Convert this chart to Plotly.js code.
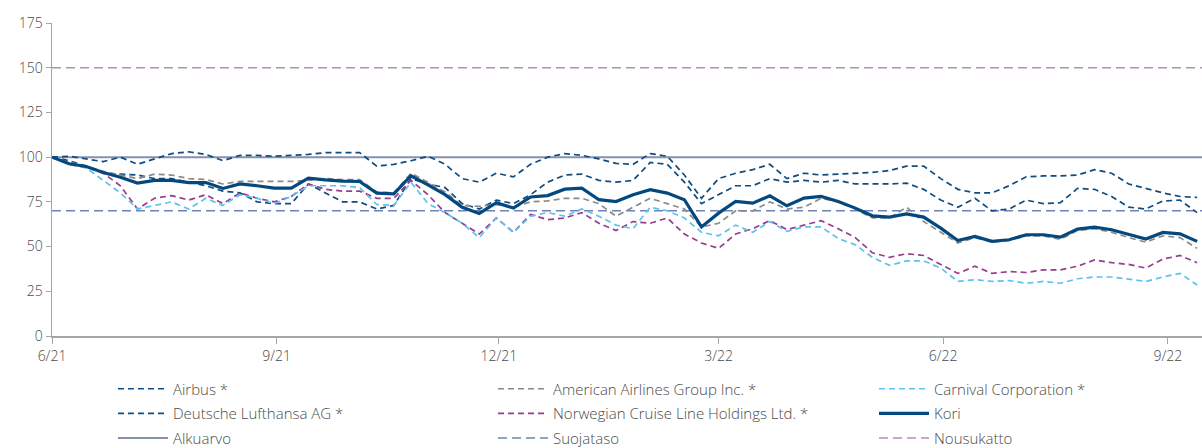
<!DOCTYPE html>
<html>
<head>
<meta charset="utf-8">
<script src="https://cdn.plot.ly/plotly-3.0.1.min.js"></script>
<style>
  html, body { margin: 0; padding: 0; background: #ffffff; }
  #chart { width: 1202px; height: 448px; }
</style>
</head>
<body>
<div id="chart"></div>
<script>
// Weekly observation dates
const dates = [
  '2021-06-01','2021-06-08','2021-06-15','2021-06-22','2021-06-29','2021-07-06','2021-07-13','2021-07-20','2021-07-27','2021-08-03',
  '2021-08-10','2021-08-17','2021-08-24','2021-08-31','2021-09-07','2021-09-14','2021-09-21','2021-09-28','2021-10-05','2021-10-12',
  '2021-10-19','2021-10-26','2021-11-02','2021-11-09','2021-11-16','2021-11-23','2021-11-30','2021-12-07','2021-12-14','2021-12-21',
  '2021-12-28','2022-01-04','2022-01-11','2022-01-18','2022-01-25','2022-02-01','2022-02-08','2022-02-15','2022-02-22','2022-03-01',
  '2022-03-08','2022-03-15','2022-03-22','2022-03-29','2022-04-05','2022-04-12','2022-04-19','2022-04-26','2022-05-03','2022-05-10',
  '2022-05-17','2022-05-24','2022-05-31','2022-06-07','2022-06-14','2022-06-21','2022-06-28','2022-07-05','2022-07-12','2022-07-19',
  '2022-07-26','2022-08-02','2022-08-09','2022-08-16','2022-08-23','2022-08-30','2022-09-06','2022-09-13'
];

const airbus = [
  100, 100.5, 99, 97.5, 100, 96, 99, 102, 103, 101.5,
  98, 101, 101, 100.5, 101, 101.5, 102.5, 102.5, 102.5, 95,
  96, 98, 100.5, 96, 88, 86, 91, 89, 96, 100,
  102, 101, 99, 96.5, 96, 102, 100.5, 90, 77, 88,
  91, 93, 96, 88, 91, 90, 90.5, 91, 91.5, 92.5,
  95, 95, 88, 82, 80, 80, 84, 89, 89.5, 89.5,
  90, 93, 91, 85, 82.5, 80, 78, 77.5
];

const lufthansa = [
  100, 98, 95, 91, 90.5, 90, 88, 88, 86, 84,
  81, 80, 75, 74, 74, 85, 80, 75, 75, 71,
  73, 88, 85, 83, 74, 71, 76, 74, 79, 86,
  90, 90.5, 87, 86, 87, 97, 96, 86, 74, 79,
  84, 84, 88, 86, 87, 86, 87, 85, 85, 85,
  85.5, 82, 76, 72, 77, 70, 71, 76, 74, 74.5,
  82.5, 82, 78, 72, 71, 75.5, 76, 69
];

const americanAirlines = [
  100, 97, 95, 92, 90, 88, 90.5, 90, 88, 87.5,
  85, 86.4, 86.4, 86.4, 86.4, 87, 88, 87.5, 87.5, 80.5,
  80, 91, 86, 80.5, 73, 72.5, 73.5, 72, 75, 75.5,
  77, 77, 74, 67, 72, 77, 74, 71, 61, 63,
  70, 70, 75, 71, 72, 77, 75, 71, 66, 66,
  72, 64, 58, 52, 55, 52.5, 53.5, 56, 56, 54,
  59, 60, 58, 55, 52.5, 56, 55, 49
];

const carnival = [
  100, 96, 94, 87, 80, 71, 73, 75, 71, 77,
  73, 79, 77, 74, 78, 84, 84, 84, 83, 73.5,
  73, 86, 74, 69, 63, 55, 66, 58, 67, 69,
  67, 71, 67, 62, 60, 72, 70, 66, 58, 56,
  62, 58, 64, 58.5, 61, 61, 54.5, 51, 44, 39.5,
  42, 42, 38, 30.5, 31.5, 30.5, 31, 29.5, 30.5, 29.5,
  32, 33, 33, 31.8, 30.5, 33, 35, 28.5
];

const norwegian = [
  100, 96, 95, 91, 84, 71, 77, 78.5, 76, 79,
  74, 80, 77, 75, 78, 85, 82, 81, 81, 77,
  77, 87, 79, 69, 63, 57, 66, 58, 68, 65,
  66, 69, 63, 59, 64, 63, 66, 57, 52, 49,
  57, 60, 64.5, 59.5, 62, 64.5, 60, 55, 46.5, 44,
  46, 45, 40, 35, 39, 35, 36, 35.5, 37, 37,
  39, 42.5, 41, 40, 38, 43, 45, 41
];

const kori = [
  100, 96.3, 94.8, 91.4, 88.8, 85.5, 87, 87, 85.8, 85.8,
  82.5, 85, 84, 82.7, 82.7, 88.3, 87.3, 86.6, 86.4, 79.9,
  79.5, 89.6, 84.5, 79, 72, 68.5, 74.5, 71.5, 77.7, 78.5,
  82.1, 82.7, 76.2, 75.2, 79, 81.8, 79.9, 76.2, 61, 68.7,
  75.2, 74.3, 78.4, 72.8, 77.1, 78, 75.2, 71.5, 67.2, 66.5,
  68.3, 66.5, 60.3, 53.4, 55.7, 52.9, 53.8, 56.6, 56.6, 55.3,
  59.8, 60.9, 59.4, 57, 54.2, 57.9, 57.1, 52.9
];

// Reference levels
const alkuarvo = 100;
const suojataso = 70;
const nousukatto = 150;

// Axis
const xRange = ['2021-06-01', '2022-09-15'];
const xTickVals = ['2021-06-01', '2021-09-01', '2021-12-01', '2022-03-01', '2022-06-01', '2022-09-01'];
const xTickText = ['6/21', '9/21', '12/21', '3/22', '6/22', '9/22'];
const yTickVals = [0, 25, 50, 75, 100, 125, 150, 175];

const FONT = 'Open Sans, Liberation Sans, Arial, sans-serif';
const TXT = '#4a4a4a';

const navyDash = '#0f4c81';
const dashS = '6px,4px';
const dashR = '9px,5px';

const traces = [
  { name: 'Nousukatto', x: xRange, y: [nousukatto, nousukatto], mode: 'lines',
    line: { color: '#b58bbd', width: 1.6, dash: dashR }, legend: 'legend9' },
  { name: 'Suojataso', x: xRange, y: [suojataso, suojataso], mode: 'lines',
    line: { color: '#6f82b5', width: 1.6, dash: dashR }, legend: 'legend8' },
  { name: 'Alkuarvo', x: xRange, y: [alkuarvo, alkuarvo], mode: 'lines',
    line: { color: '#8591ad', width: 2 }, legend: 'legend7' },
  { name: 'Airbus *', x: dates, y: airbus, mode: 'lines',
    line: { color: navyDash, width: 1.7, dash: dashS }, legend: 'legend' },
  { name: 'Deutsche Lufthansa AG *', x: dates, y: lufthansa, mode: 'lines',
    line: { color: navyDash, width: 1.7, dash: dashS }, legend: 'legend4' },
  { name: 'American Airlines Group Inc. *', x: dates, y: americanAirlines, mode: 'lines',
    line: { color: '#8a8a8a', width: 1.7, dash: dashS }, legend: 'legend2' },
  { name: 'Norwegian Cruise Line Holdings Ltd. *', x: dates, y: norwegian, mode: 'lines',
    line: { color: '#963d8f', width: 1.7, dash: dashS }, legend: 'legend5' },
  { name: 'Carnival Corporation *', x: dates, y: carnival, mode: 'lines',
    line: { color: '#5cc3ef', width: 1.7, dash: dashS }, legend: 'legend3' },
  { name: 'Kori', x: dates, y: kori, mode: 'lines',
    line: { color: '#03497f', width: 3.2 }, legend: 'legend6' }
];

// plot area: x 52..1202, y 23..336
const colX = [0.053, 0.3835, 0.7148];
const rowY = [-0.1693, -0.248, -0.3267];
function leg(c, r) {
  return {
    x: colX[c], y: rowY[r], xanchor: 'left', yanchor: 'middle',
    bgcolor: 'rgba(0,0,0,0)', borderwidth: 0, itemwidth: 50,
    font: { family: FONT, size: 15, color: TXT, weight: 300 }
  };
}

const layout = {
  width: 1202, height: 448,
  margin: { l: 52, r: 0, t: 23, b: 112, autoexpand: false },
  paper_bgcolor: '#ffffff', plot_bgcolor: '#ffffff',
  font: { family: FONT, size: 14, color: TXT },
  showlegend: true,
  xaxis: {
    type: 'date', range: xRange,
    tickmode: 'array', tickvals: xTickVals, ticktext: xTickText,
    ticks: 'outside', ticklen: 6, tickcolor: '#a6a6a6', tickwidth: 1,
    showline: true, linecolor: '#a6a6a6', linewidth: 2,
    showgrid: false, zeroline: false, automargin: false,
    tickfont: { family: FONT, size: 14, color: TXT, weight: 300 }
  },
  yaxis: {
    range: [0, 175], tickmode: 'array', tickvals: yTickVals,
    ticks: 'outside', ticklen: 5, tickcolor: '#a6a6a6', tickwidth: 1,
    showline: true, linecolor: '#a6a6a6', linewidth: 1.5,
    showgrid: false, zeroline: false, automargin: false,
    tickfont: { family: FONT, size: 14, color: TXT, weight: 300 }
  },
  legend: leg(0, 0), legend2: leg(1, 0), legend3: leg(2, 0),
  legend4: leg(0, 1), legend5: leg(1, 1), legend6: leg(2, 1),
  legend7: leg(0, 2), legend8: leg(1, 2), legend9: leg(2, 2)
};

Plotly.newPlot('chart', traces, layout, { displayModeBar: false, staticPlot: true });
</script>
</body>
</html>
